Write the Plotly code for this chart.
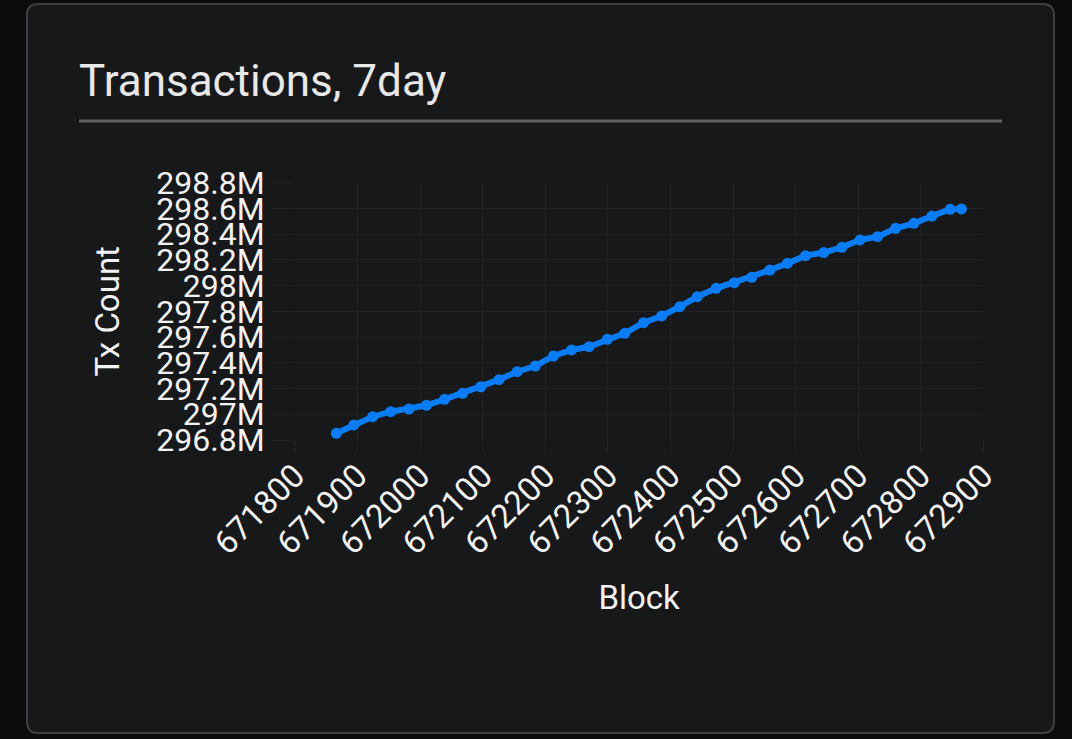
import plotly.graph_objects as go

# ---- data ----
blocks = [671866, 671894, 671924, 671953, 671982, 672010, 672039, 672068, 672097,
          672126, 672155, 672184, 672213, 672242, 672270, 672299, 672327, 672357,
          672386, 672415, 672443, 672473, 672502, 672530, 672559, 672587, 672616,
          672645, 672674, 672703, 672731, 672760, 672789, 672818, 672847, 672865]
tx_counts = [296852000, 296917000, 296981000, 297020000, 297041000, 297070000,
             297116000, 297163000, 297214000, 297269000, 297331000, 297375000,
             297453000, 297500000, 297525000, 297583000, 297629000, 297712000,
             297764000, 297836000, 297914000, 297979000, 298023000, 298065000,
             298121000, 298173000, 298233000, 298257000, 298298000, 298355000,
             298380000, 298446000, 298484000, 298541000, 298593000, 298596000]
y_tick_vals = [296800000, 297000000, 297200000, 297400000, 297600000, 297800000,
               298000000, 298200000, 298400000, 298600000, 298800000]
y_tick_text = ["296.8M", "297M", "297.2M", "297.4M", "297.6M", "297.8M",
               "298M", "298.2M", "298.4M", "298.6M", "298.8M"]
x_tick_vals = [671800, 671900, 672000, 672100, 672200, 672300, 672400,
               672500, 672600, 672700, 672800, 672900]

W, H = 1072, 739
def px(x):
    return x / W
def py(y):
    return 1 - y / H

BG_OUT = "#0b0b0c"
CARD = "#17181a"
GRID = "#212225"
TXT = "#f2f2f2"
BLUE = "#0a7cf6"
FONT = "Roboto"

fig = go.Figure()
fig.add_trace(go.Scatter(
    x=blocks, y=tx_counts, mode="lines+markers",
    line=dict(color=BLUE, width=6),
    marker=dict(color=BLUE, size=11),
    showlegend=False,
))

# rounded card path
x0, x1, y0, y1, r = 27, 1054, 4, 733, 11
path = (f"M {px(x0+r)},{py(y0)} L {px(x1-r)},{py(y0)} Q {px(x1)},{py(y0)} {px(x1)},{py(y0+r)} "
        f"L {px(x1)},{py(y1-r)} Q {px(x1)},{py(y1)} {px(x1-r)},{py(y1)} "
        f"L {px(x0+r)},{py(y1)} Q {px(x0)},{py(y1)} {px(x0)},{py(y1-r)} "
        f"L {px(x0)},{py(y0+r)} Q {px(x0)},{py(y0)} {px(x0+r)},{py(y0)} Z")

fig.update_layout(
    width=W, height=H, autosize=False,
    margin=dict(l=0, r=0, t=0, b=0),
    paper_bgcolor=BG_OUT,
    plot_bgcolor="rgba(0,0,0,0)",
    font=dict(family=FONT, color=TXT),
    title=dict(text="Transactions, 7day", x=px(79), xref="paper", xanchor="left",
               y=py(81), yref="paper", yanchor="middle",
               font=dict(family=FONT, size=44, color="#e8e8e8")),
    shapes=[
        dict(type="path", xref="paper", yref="paper", path=path,
             fillcolor=CARD, line=dict(color="#3e3f42", width=2), layer="below"),
        dict(type="line", xref="paper", yref="paper", x0=px(79), x1=px(1002),
             y0=py(121), y1=py(121), line=dict(color="#626262", width=3), layer="below"),
    ],
    xaxis=dict(
        domain=[px(295), px(983.3)], range=[671800, 672900],
        tickvals=x_tick_vals, tickangle=-45, tickfont=dict(size=33, color=TXT),
        ticks="outside", ticklen=12, tickcolor=GRID, tickwidth=1,
        ticklabelstandoff=-10,
        showgrid=True, gridcolor=GRID, gridwidth=1, zeroline=False, showline=False,
        title=dict(text="Block", font=dict(size=33, color=TXT), standoff=24),
        automargin=False, tickformat="d",
    ),
    yaxis=dict(
        domain=[py(440), py(182.7)], range=[296800000, 298800000],
        tickvals=y_tick_vals, ticktext=y_tick_text, tickfont=dict(size=32, color=TXT),
        ticks="outside", ticklen=23, tickcolor=GRID, tickwidth=1,
        showgrid=True, gridcolor=GRID, gridwidth=1, zeroline=False, showline=False,
        title=dict(text="Tx Count", font=dict(size=33, color=TXT), standoff=26),
        automargin=False,
    ),
)

fig.write_html(
    "out.html",
    config={"displayModeBar": False},
    post_script="document.body.style.margin='0';document.body.style.background='#0b0b0c';",
)
